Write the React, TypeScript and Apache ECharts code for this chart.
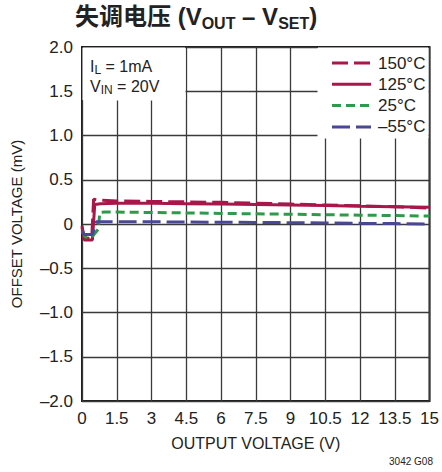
import React, { useEffect, useRef } from "react";
import * as echarts from "echarts";

const xTicks = [0, 1.5, 3, 4.5, 6, 7.5, 9, 10.5, 12, 13.5, 15];
const yTicks = [-2, -1.5, -1, -0.5, 0, 0.5, 1, 1.5, 2];

const t150: [number, number][] = [
  [0, -0.04], [0.1, -0.16], [0.42, -0.16], [0.5, 0.28], [0.7, 0.27], [1.5, 0.26],
  [3, 0.255], [4.5, 0.25], [6, 0.245], [7.5, 0.235], [9, 0.225], [10.5, 0.215],
  [12, 0.205], [13.5, 0.195], [15, 0.18],
];
const t125: [number, number][] = [
  [0, -0.02], [0.1, -0.18], [0.45, -0.18], [0.55, 0.22], [0.8, 0.23], [1.5, 0.235],
  [3, 0.235], [4.5, 0.23], [6, 0.225], [7.5, 0.22], [9, 0.215], [10.5, 0.21],
  [12, 0.2], [13.5, 0.195], [15, 0.19],
];
const t25: [number, number][] = [
  [0, -0.08], [0.15, -0.15], [0.45, -0.14], [0.7, -0.06], [0.77, 0.13], [1.0, 0.135],
  [1.5, 0.135], [3, 0.13], [4.5, 0.125], [6, 0.12], [7.5, 0.115], [9, 0.11],
  [10.5, 0.105], [12, 0.1], [13.5, 0.095], [15, 0.09],
];
const tm55: [number, number][] = [
  [0, -0.08], [0.1, -0.12], [0.45, -0.12], [0.62, 0.025], [1.0, 0.025], [1.5, 0.025],
  [3, 0.025], [4.5, 0.022], [6, 0.02], [7.5, 0.018], [9, 0.015], [10.5, 0.012],
  [12, 0.008], [13.5, 0.005], [15, 0.0],
];

const seriesNames = ["150°C", "125°C", "25°C", "–55°C"];
const CRIMSON = "#a8174a";
const GREEN = "#2f9a4a";
const PURPLE = "#4a4797";
const COLORS = [CRIMSON, CRIMSON, GREEN, PURPLE];
const DASHES: (number[] | string)[] = [[16, 6], "solid", [9, 5], [18, 6]];
const FONT = "'Liberation Sans', Arial, sans-serif";

export default function App() {
  const ref = useRef<HTMLDivElement>(null);
  useEffect(() => {
    if (!ref.current) return;
    const chart = echarts.init(ref.current, undefined, { renderer: "svg" });
    const fmtY = (v: number) =>
      v === 0 ? "0" : (v < 0 ? "–" : "") + Math.abs(v).toFixed(1);
    const legendGraphics: any[] = [];
    seriesNames.forEach((n, i) => {
      const y = 63 + i * 21.3;
      legendGraphics.push({
        type: "line", z: 5,
        shape: { x1: 332, y1: y, x2: 371, y2: y },
        style: { stroke: COLORS[i], lineWidth: 3, lineDash: DASHES[i] === "solid" ? null : DASHES[i] },
      });
      legendGraphics.push({
        type: "text", z: 5, x: 378, y,
        style: { text: n, fontSize: 17, fontFamily: FONT, fill: "#222", verticalAlign: "middle" },
      });
    });
    const data = [t150, t125, t25, tm55];
    chart.setOption({
      animation: false,
      textStyle: { fontFamily: FONT },
      grid: {
        left: 82, right: 9, top: 47, bottom: 71,
        show: true, borderColor: "#1a1a1a", borderWidth: 2,
      },
      xAxis: {
        type: "value", min: xTicks[0], max: xTicks[xTicks.length - 1], interval: 1.5,
        name: "OUTPUT VOLTAGE (V)", nameLocation: "middle", nameGap: 34,
        nameTextStyle: { fontSize: 16, color: "#222", fontFamily: FONT },
        axisLine: { show: false }, axisTick: { show: false },
        axisLabel: { fontSize: 17, color: "#222", margin: 9, fontFamily: FONT },
        splitLine: { show: true, lineStyle: { color: "#3a3a3a", width: 1.3 } },
      },
      yAxis: {
        type: "value", min: yTicks[0], max: yTicks[yTicks.length - 1], interval: 0.5,
        name: "OFFSET VOLTAGE (mV)", nameLocation: "middle", nameGap: 58,
        nameTextStyle: { fontSize: 15, color: "#222", fontFamily: FONT },
        axisLine: { show: false }, axisTick: { show: false },
        axisLabel: { fontSize: 17, color: "#222", margin: 9, formatter: fmtY, fontFamily: FONT },
        splitLine: { show: true, lineStyle: { color: "#3a3a3a", width: 1.3 } },
      },
      graphic: [
        { type: "rect", z: 1, shape: { x: 318, y: 48, width: 110, height: 90 }, style: { fill: "#fff", stroke: "#fff", lineWidth: 1 } },
        { type: "rect", z: 1, shape: { x: 83, y: 48, width: 102, height: 52 }, style: { fill: "#fff", stroke: "#fff", lineWidth: 1 } },
        {
          type: "text", z: 5, x: 75, y: 1,
          style: {
            text: "{m|失调电压 (V}{s|OUT}{m| – V}{s|SET}{m|)}",
            rich: {
              m: { fontSize: 24, fontWeight: "bold", fontFamily: "'Liberation Sans', 'Noto Sans CJK SC', sans-serif", fill: "#222", lineHeight: 30 },
              s: { fontSize: 16, fontWeight: "bold", fontFamily: "'Liberation Sans', sans-serif", fill: "#222", lineHeight: 16, verticalAlign: "bottom" },
            },
          },
        },
        {
          type: "text", z: 5, x: 90, y: 56,
          style: {
            text: "{m|I}{s|L}{m| = 1mA}\n{m|V}{s|IN}{m| = 20V}",
            rich: {
              m: { fontSize: 16, fontFamily: FONT, fill: "#222", lineHeight: 20 },
              s: { fontSize: 12, fontFamily: FONT, fill: "#222", lineHeight: 12, verticalAlign: "bottom" },
            },
          },
        },
        {
          type: "text", z: 5, x: 433, y: 456,
          style: { text: "3042 G08", fontSize: 10, fontFamily: FONT, fill: "#222", align: "right" },
        },
        ...legendGraphics,
      ],
      series: data.map((d, i) => ({
        name: seriesNames[i], type: "line", data: d, showSymbol: false, symbol: "none", z: 3,
        lineStyle: { color: COLORS[i], width: 3, type: DASHES[i] },
        itemStyle: { color: COLORS[i] },
      })),
    });
    return () => chart.dispose();
  }, []);
  return (
    <div ref={ref} style={{ position: "absolute", left: 0, top: 0, width: 442, height: 472 }} />
  );
}
